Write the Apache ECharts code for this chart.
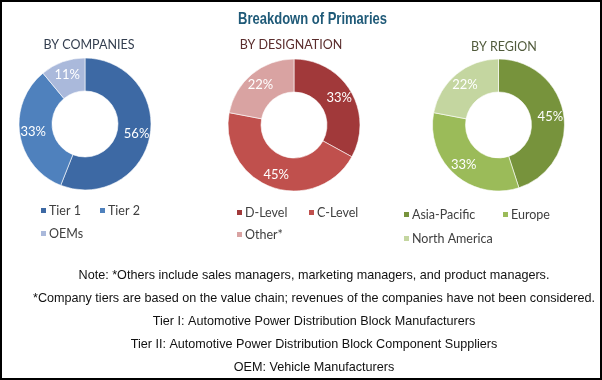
<!DOCTYPE html>
<html>
<head>
<meta charset="utf-8">
<script src="https://cdn.jsdelivr.net/npm/echarts@6/dist/echarts.min.js"></script>
<style>html,body{margin:0;padding:0;background:#fff;}#c{width:602px;height:380px;}</style>
</head>
<body>
<div id="c"></div>
<script>
const chartTitle = 'Breakdown of Primaries';
const companyNames = ['Tier 1', 'Tier 2', 'OEMs'];
const companyValues = [56, 33, 11];
const designationNames = ['D-Level', 'C-Level', 'Other*'];
const designationValues = [33, 45, 22];
const regionNames = ['Asia-Pacific', 'Europe', 'North America'];
const regionValues = [45, 33, 22];
const panelTitles = ['BY COMPANIES', 'BY DESIGNATION', 'BY REGION'];
const notes = [
  'Note: *Others include sales managers, marketing managers, and product managers.',
  '*Company tiers are based on the value chain; revenues of the companies have not been considered.',
  'Tier I: Automotive Power Distribution Block Manufacturers',
  'Tier II: Automotive Power Distribution Block Component Suppliers',
  'OEM: Vehicle Manufacturers'
];

const companyColors = ['#3d69a4', '#4f81bd', '#aab9db'];
const designationColors = ['#a1393a', '#c0504d', '#d9a3a2'];
const regionColors = ['#77933c', '#9bbb59', '#c4d6a0'];

const chart = echarts.init(document.getElementById('c'), null, {renderer: 'canvas'});

// horizontal compression to emulate a narrow font
const ctx = document.createElement('canvas').getContext('2d');
function measure(font, text) { ctx.font = font; return ctx.measureText(text).width; }
const noteFont = '13px "Liberation Sans", Arial, sans-serif';
const titleFont = 'bold 16.5px "Liberation Sans", Arial, sans-serif';
const noteScale = 562 / measure(noteFont, notes[1]);
const titleScale = 149 / measure(titleFont, chartTitle);

function pie(names, values, colors, cx, cy) {
  return {
    type: 'pie',
    center: [cx, cy],
    radius: [33, 66],
    startAngle: 90,
    clockwise: true,
    silent: true,
    label: {
      show: true, position: 'inside', formatter: '{c}%',
      color: '#fff', fontSize: 13, fontFamily: 'Lato'
    },
    labelLine: {show: false},
    itemStyle: {borderColor: '#fff', borderWidth: 0.6},
    data: names.map((n, i) => ({name: n, value: values[i], itemStyle: {color: colors[i]}}))
  };
}

function leg(name, x, cy) {
  return {
    data: [name], left: x, top: cy - 7, padding: 0,
    itemWidth: 7, itemHeight: 7, icon: 'rect', selectedMode: false,
    textStyle: {fontSize: 12.5, fontFamily: 'Lato', color: '#404040', padding: [0, 0, 0, -3]}
  };
}

const legends = [
  leg(companyNames[0], 39, 211), leg(companyNames[1], 98, 211), leg(companyNames[2], 39, 234),
  leg(designationNames[0], 235, 213), leg(designationNames[1], 307, 213), leg(designationNames[2], 235, 235),
  leg(regionNames[0], 402, 215), leg(regionNames[1], 501, 215), leg(regionNames[2], 402, 239)
];

const noteY = [275, 298, 321, 344, 367];

const graphics = [
  {type: 'rect', shape: {x: 1, y: 1, width: 600, height: 378}, style: {fill: 'none', stroke: '#000', lineWidth: 2}, silent: true},
  {type: 'text', x: 312.5, y: 19, scaleX: titleScale, silent: true,
   style: {text: chartTitle, textAlign: 'center', textVerticalAlign: 'middle', fill: '#1f5a78', font: titleFont}}
];
notes.forEach((t, i) => {
  graphics.push({
    type: 'text', x: 314, y: noteY[i], scaleX: noteScale, silent: true,
    style: {text: t, textAlign: 'center', textVerticalAlign: 'middle', fill: '#111', font: noteFont}
  });
});

const titles = [
  {text: panelTitles[0], left: 89, top: 38, textAlign: 'center', padding: 0,
   textStyle: {fontSize: 12.5, fontWeight: 'normal', color: '#333e4f', fontFamily: 'Lato'}},
  {text: panelTitles[1], left: 291, top: 38, textAlign: 'center', padding: 0,
   textStyle: {fontSize: 12.5, fontWeight: 'normal', color: '#5a2c2c', fontFamily: 'Lato'}},
  {text: panelTitles[2], left: 504, top: 40, textAlign: 'center', padding: 0,
   textStyle: {fontSize: 12.5, fontWeight: 'normal', color: '#515b3c', fontFamily: 'Lato'}}
];

chart.setOption({
  animation: false,
  backgroundColor: '#fff',
  title: titles,
  legend: legends,
  series: [
    pie(companyNames, companyValues, companyColors, 85, 124),
    pie(designationNames, designationValues, designationColors, 294, 125),
    pie(regionNames, regionValues, regionColors, 498.5, 125)
  ],
  graphic: graphics
});
</script>
</body>
</html>
